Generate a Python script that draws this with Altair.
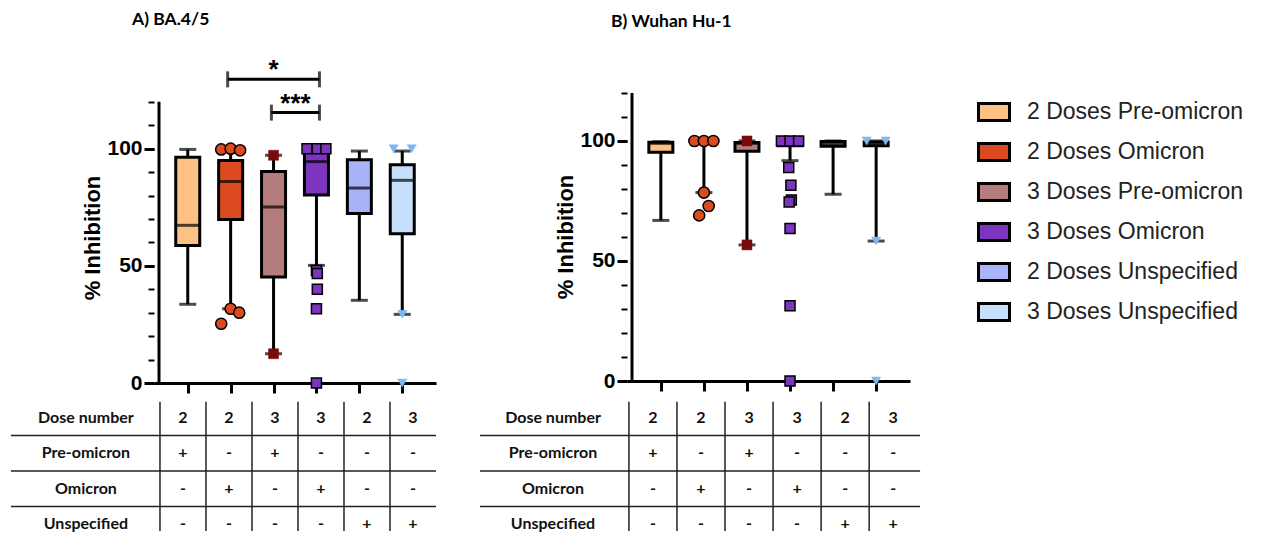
import altair as alt
import pandas as pd

# ---------------- data ----------------
groups = ["2 Doses Pre-omicron", "2 Doses Omicron", "3 Doses Pre-omicron",
          "3 Doses Omicron", "2 Doses Unspecified", "3 Doses Unspecified"]
box_colors = ["#FDC283", "#DC4A20", "#B57C7E", "#7D35C0", "#A9B3F9", "#C6DFFB"]

# Panel A  (BA.4/5)  box statistics
a_wlo = [33.6, 31.7, 12.5, 50.2, 35.3, 29.3]
a_q1 = [58.7, 69.8, 45.2, 80.2, 72.3, 63.7]
a_med = [67.3, 86.0, 75.1, 94.5, 83.2, 86.5]
a_q3 = [96.4, 95.0, 90.3, 99.5, 95.3, 93.2]
a_whi = [99.7, 100.0, 97.2, 100.0, 99.0, 99.0]
# Panel A individual points (group index, value, horizontal jitter)
a_pt_grp = [1, 1, 1, 1, 1, 1, 2, 2, 3, 3, 3, 3, 3, 3, 3, 3, 5, 5, 5, 5]
a_pt_val = [99.7, 100.0, 99.3, 31.7, 30.0, 25.3, 97.2, 12.5,
            100.0, 100.0, 100.0, 48.0, 46.7, 40.0, 31.7, 0.0,
            100.0, 100.0, 29.3, 0.0]
a_pt_jit = [-0.22, 0.0, 0.22, 0.0, 0.2, -0.22, 0.0, 0.0,
            -0.22, 0.02, 0.22, 0.0, 0.02, 0.02, 0.0, 0.0,
            -0.2, 0.22, 0.0, 0.0]

# Panel B  (Wuhan Hu-1)
b_wlo = [66.9, 78.5, 56.7, 91.8, 77.8, 58.3]
b_q1 = [95.3, 99.0, 95.7, 98.0, 97.8, 98.0]
b_med = [99.0, 100.0, 99.0, 99.5, 98.8, 99.0]
b_q3 = [99.5, 100.0, 99.4, 100.0, 99.8, 99.6]
b_whi = [99.7, 100.0, 100.0, 100.0, 100.0, 100.0]
b_pt_grp = [1, 1, 1, 1, 1, 1, 2, 2, 3, 3, 3, 3, 3, 3, 3, 3, 3, 3, 5, 5, 5, 5]
b_pt_val = [100.0, 100.0, 100.0, 78.5, 72.9, 69.0, 100.0, 56.7,
            100.0, 100.0, 100.0, 88.9, 81.5, 75.4, 74.6, 63.5, 31.3, 0.0,
            100.0, 100.0, 58.3, 0.0]
b_pt_jit = [-0.22, 0.0, 0.22, 0.0, 0.11, -0.11, 0.0, 0.0,
            -0.2, 0.0, 0.2, -0.03, 0.02, 0.03, -0.02, 0.0, 0.0, 0.0,
            -0.22, 0.22, 0.0, 0.0]

# Significance brackets (panel A)
sig_from = [0.93, 1.95]
sig_to = [3.07, 3.07]
sig_y = [129.6, 115.4]
sig_text = ["*", "***"]
sig_text_y = [133.7, 119.2]

# Tables
row_labels = ["Dose number", "Pre-omicron", "Omicron", "Unspecified"]
row_dose = ["2", "2", "3", "3", "2", "3"]
row_pre = ["+", "-", "+", "-", "-", "-"]
row_omi = ["-", "+", "-", "+", "-", "-"]
row_uns = ["-", "-", "-", "-", "+", "+"]

AXFONT = "Liberation Sans"
TFONT = "Lato"


def make_plot(title, wlo, q1, med, q3, whi, pg, pv, pj, height, width, ymax,
              title_dx, title_offset, sig=False):
    box_df = pd.DataFrame({"idx": list(range(6)), "group": groups,
                           "wlo": wlo, "q1": q1, "med": med, "q3": q3, "whi": whi})
    pt_df = pd.DataFrame({"g": pg, "val": pv, "jit": pj})
    pt_df["xpos"] = pt_df["g"] + pt_df["jit"]
    ax_df = pd.DataFrame({"ax": [-0.67], "y0": [0], "y1": [120]})

    xs = alt.Scale(domain=[-0.67, 5.67], nice=False, zero=False)
    xaxis = alt.Axis(values=[0, 1, 2, 3, 4, 5], labels=False, title=None,
                     tickSize=10, tickWidth=3, tickColor="black",
                     domainWidth=3, domainColor="black", grid=False)
    ys = alt.Scale(domain=[0, ymax], nice=False, zero=False)
    main_axis = alt.Axis(values=[0, 50, 100], orient="left", title="% Inhibition",
                         titleFont=AXFONT, titleFontSize=22, titleFontWeight="bold",
                         titleColor="black", titlePadding=2,
                         labelFont=AXFONT, labelFontSize=21, labelFontWeight="bold",
                         labelColor="black", labelPadding=2,
                         tickSize=10, tickWidth=3, tickColor="black",
                         domain=False, grid=False)
    minor_axis = alt.Axis(values=list(range(0, 121, 10)), orient="left", title=None,
                          labels=False, tickSize=6, tickWidth=2, tickColor="black",
                          domain=False, grid=False)

    def X(f):
        return alt.X(f, type="quantitative", scale=xs, axis=xaxis)

    yaxis_line = alt.Chart(ax_df).mark_rule(color="black", strokeWidth=3).encode(
        x=X("ax"), y=alt.Y("y0:Q", scale=ys, axis=None), y2="y1:Q")

    base = alt.Chart(box_df)
    whisk = base.mark_rule(color="black", strokeWidth=3).encode(
        x=X("idx"), y=alt.Y("wlo:Q", scale=ys, axis=minor_axis), y2="whi:Q")
    cap_lo = base.mark_tick(orient="horizontal", size=17, thickness=3, color="black").encode(
        x=X("idx"), y=alt.Y("wlo:Q", scale=ys, axis=None))
    cap_hi = base.mark_tick(orient="horizontal", size=17, thickness=3, color="black").encode(
        x=X("idx"), y=alt.Y("whi:Q", scale=ys, axis=None))
    box = base.mark_bar(size=24, stroke="black", strokeWidth=3, opacity=1).encode(
        x=X("idx"), y=alt.Y("q1:Q", scale=ys, axis=main_axis), y2="q3:Q",
        color=alt.Color("group:N", scale=alt.Scale(domain=groups, range=box_colors), legend=None))
    medl = base.mark_tick(orient="horizontal", size=24, thickness=3, color="black").encode(
        x=X("idx"), y=alt.Y("med:Q", scale=ys, axis=None))

    pts = alt.Chart(pt_df)
    circ = pts.transform_filter("datum.g == 1").mark_point(
        shape="circle", filled=True, size=125, fill="#DC4A20", stroke="black",
        strokeWidth=1.5, opacity=1).encode(x=X("xpos"), y=alt.Y("val:Q", scale=ys, axis=None))
    maroon = pts.transform_filter("datum.g == 2").mark_point(
        shape="square", filled=True, size=100, fill="#780A0A", stroke="#780A0A",
        strokeWidth=0.5, opacity=1).encode(x=X("xpos"), y=alt.Y("val:Q", scale=ys, axis=None))
    sq = pts.transform_filter("datum.g == 3").mark_point(
        shape="square", filled=True, size=100, fill="#7D35C0", stroke="black",
        strokeWidth=1.5, opacity=1).encode(x=X("xpos"), y=alt.Y("val:Q", scale=ys, axis=None))
    tri = pts.transform_filter("datum.g == 5").mark_point(
        shape="triangle-down", filled=True, size=85, fill="#7DBAF2", stroke="#7DBAF2",
        strokeWidth=0.5, opacity=1).encode(x=X("xpos"), y=alt.Y("val:Q", scale=ys, axis=None))

    layers = [yaxis_line, whisk, cap_lo, cap_hi, box, medl, circ, maroon, sq, tri]

    if sig:
        sig_df = pd.DataFrame({"x1": sig_from, "x2": sig_to, "y": sig_y,
                               "lab": sig_text, "ty": sig_text_y})
        sig_df["xm"] = (sig_df["x1"] + sig_df["x2"]) / 2
        sb = alt.Chart(sig_df)
        bar = sb.mark_rule(color="black", strokeWidth=3).encode(
            x=X("x1"), x2="x2:Q", y=alt.Y("y:Q", scale=ys, axis=None))
        capl = sb.mark_tick(orient="vertical", size=16, thickness=3, color="black").encode(
            x=X("x1"), y=alt.Y("y:Q", scale=ys, axis=None))
        capr = sb.mark_tick(orient="vertical", size=16, thickness=3, color="black").encode(
            x=X("x2"), y=alt.Y("y:Q", scale=ys, axis=None))
        txt = sb.mark_text(font=AXFONT, fontSize=26, fontWeight="bold", color="black",
                           baseline="middle").encode(
            x=X("xm"), y=alt.Y("ty:Q", scale=ys, axis=None), text="lab:N")
        layers += [bar, capl, capr, txt]

    return alt.layer(*layers).resolve_axis(y="independent").properties(
        width=width, height=height,
        title=alt.TitleParams(text=title, anchor="start", frame="group", dx=title_dx,
                              offset=title_offset, font=TFONT, fontSize=17.5,
                              fontWeight="bold", color="black"))


def make_table(width, x0, x1, left, right, label_x):
    rows = [row_dose, row_pre, row_omi, row_uns]
    cells = []
    for r, vals in enumerate(rows):
        for c, v in enumerate(vals):
            cells.append({"c": c, "r": r + 0.5, "t": v})
    cell_df = pd.DataFrame(cells)
    lab_df = pd.DataFrame({"lx": [label_x] * 4, "r": [0.5, 1.5, 2.5, 3.5], "t": row_labels})
    h_df = pd.DataFrame({"a": [left] * 3, "b": [right] * 3, "r": [1, 2, 3]})
    v_df = pd.DataFrame({"c": [-0.5, 0.5, 1.5, 2.5, 3.5, 4.5], "r1": [0.05] * 6, "r2": [3.69] * 6})

    xs = alt.Scale(domain=[x0, x1], nice=False, zero=False)
    ys = alt.Scale(domain=[0, 3.69], nice=False, zero=False, reverse=True)
    txt = alt.Chart(cell_df).mark_text(font=TFONT, fontSize=16, fontWeight="bold",
                                       color="#111111", baseline="middle").encode(
        x=alt.X("c:Q", scale=xs, axis=None), y=alt.Y("r:Q", scale=ys, axis=None), text="t:N")
    lab = alt.Chart(lab_df).mark_text(font=TFONT, fontSize=16, fontWeight="bold",
                                      color="#111111", baseline="middle").encode(
        x=alt.X("lx:Q", scale=xs, axis=None), y=alt.Y("r:Q", scale=ys, axis=None), text="t:N")
    hl = alt.Chart(h_df).mark_rule(color="#222222", strokeWidth=1.5).encode(
        x=alt.X("a:Q", scale=xs, axis=None), x2="b:Q", y=alt.Y("r:Q", scale=ys, axis=None))
    vl = alt.Chart(v_df).mark_rule(color="#222222", strokeWidth=1.5).encode(
        x=alt.X("c:Q", scale=xs, axis=None), y=alt.Y("r1:Q", scale=ys, axis=None), y2="r2:Q")
    return alt.layer(hl, vl, txt, lab).properties(width=width, height=131)


plotA = make_plot("A) BA.4/5", a_wlo, a_q1, a_med, a_q3, a_whi,
                  a_pt_grp, a_pt_val, a_pt_jit, 291, 282, 124.2, -22, 28, sig=True)
plotB = make_plot("B) Wuhan Hu-1", b_wlo, b_q1, b_med, b_q3, b_whi,
                  b_pt_grp, b_pt_val, b_pt_jit, 289, 283, 120.4, -16, 61)
tableA = make_table(282, -0.63, 5.5, -3.74, 5.5, -2.11)
tableB = make_table(283, -0.54, 5.35, -3.6, 5.56, -2.08)

panelA = alt.vconcat(plotA, tableA, spacing=5)
panelB = alt.vconcat(plotB, tableB, spacing=7)

leg_df = pd.DataFrame({"i": list(range(6)), "group": groups})
leg_ys = alt.Scale(domain=[-0.5, 5.5], nice=False, zero=False, reverse=True)
sw = alt.Chart(leg_df).mark_point(shape="M-1,-0.55H1V0.55H-1Z", size=961, filled=True,
                                  stroke="black", strokeWidth=3, opacity=1).encode(
    x=alt.value(31), y=alt.Y("i:Q", scale=leg_ys, axis=None),
    fill=alt.Fill("group:N", scale=alt.Scale(domain=groups, range=box_colors), legend=None))
lt = alt.Chart(leg_df).mark_text(align="left", baseline="middle", font=AXFONT,
                                 fontSize=23, color="#222222").encode(
    x=alt.value(64), y=alt.Y("i:Q", scale=leg_ys, axis=None), text="group:N")
legend = alt.layer(sw, lt).properties(width=270, height=240)

chart = alt.hconcat(panelA, panelB, legend, spacing=42).configure_view(
    stroke=None).properties(padding={"left": 2, "top": 3, "right": 2, "bottom": 0})

chart.save("out.html", embed_options={"renderer": "svg", "actions": False})
